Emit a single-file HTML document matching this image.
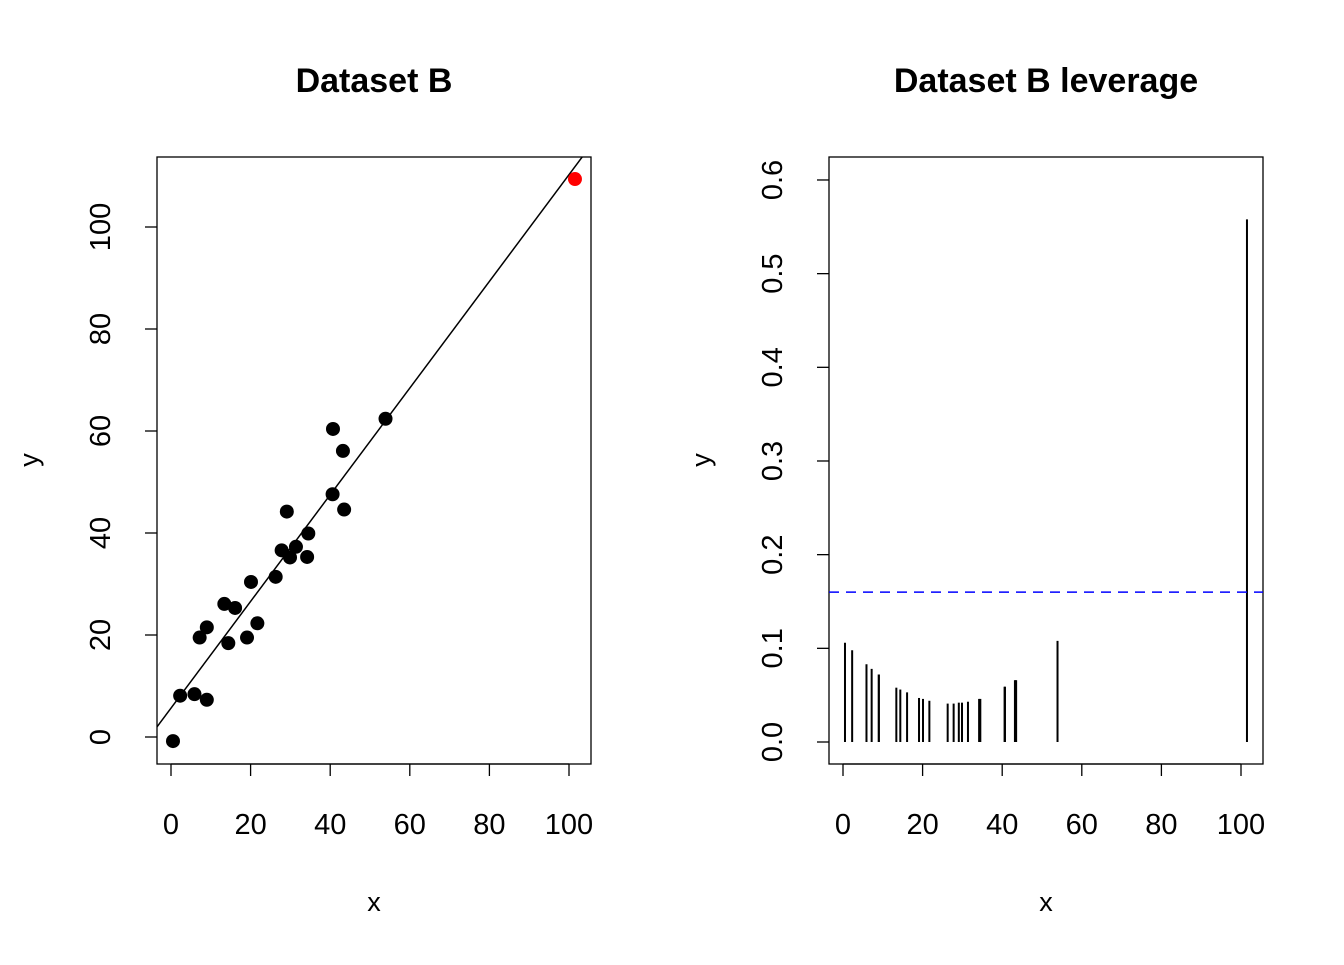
<!DOCTYPE html>
<html><head><meta charset="utf-8"><style>
body{margin:0;background:#fff}
svg text{font-family:"Liberation Sans",Arial,sans-serif;fill:#000}
</style></head><body>
<svg id="s" width="1344" height="960" xmlns="http://www.w3.org/2000/svg">
<text x="374" y="92" text-anchor="middle" font-size="34" font-weight="bold">Dataset B</text>
<text x="1046" y="92" text-anchor="middle" font-size="34" font-weight="bold">Dataset B leverage</text>
<text x="374" y="911" text-anchor="middle" font-size="27">x</text>
<text x="1046" y="911" text-anchor="middle" font-size="27">x</text>
<text transform="translate(38,460) rotate(-90)" text-anchor="middle" font-size="27">y</text>
<text transform="translate(710,460) rotate(-90)" text-anchor="middle" font-size="27">y</text>
<g id="L"></g>
<g id="R"></g>
</svg>
<script>
const xs=[0.5,2.3,5.9,7.2,9.0,9.0,13.4,14.4,16.1,19.1,20.1,21.7,26.3,27.8,29.1,29.9,31.4,34.2,34.5,40.7,40.6,43.2,43.5,53.9,101.5];
const ys=[-0.8,8.1,8.4,19.5,7.3,21.5,26.1,18.4,25.3,19.5,30.4,22.3,31.4,36.6,44.2,35.2,37.3,35.3,39.9,60.4,47.6,56.1,44.6,62.4,109.4];
const lev=[0.106,0.098,0.083,0.078,0.072,0.072,0.058,0.056,0.053,0.047,0.046,0.044,0.041,0.041,0.042,0.042,0.043,0.046,0.046,0.059,0.059,0.066,0.066,0.108,0.558];
const fitIntercept=5.66, fitSlope=1.046;
const xTicks=[0,20,40,60,80,100];
const yTicksL=[0,20,40,60,80,100];
const yTicksR=[0,0.1,0.2,0.3,0.4,0.5,0.6];
const levCutoff=0.16;
const NS="http://www.w3.org/2000/svg";
function mk(p,t,a){const e=document.createElementNS(NS,t);for(const k in a)e.setAttribute(k,a[k]);p.appendChild(e);return e;}
const xL=v=>171+v*3.98, yL=v=>737-v*5.1;
const xR=v=>843+v*3.98, yR=v=>742-v*936.7;
function axes(g,x0,x1,y0,y1,xf,yf,yt,fmt,pref){
  const b=mk(g,'rect',{x:x0,y:y0,width:x1-x0,height:y1-y0,fill:'none',stroke:'#000','stroke-width':1.3});
  
  mk(g,'line',{x1:xf(xTicks[0]),x2:xf(xTicks[xTicks.length-1]),y1:y1,y2:y1,stroke:'#000','stroke-width':1.3});
  xTicks.forEach(t=>{mk(g,'line',{x1:xf(t),x2:xf(t),y1:y1,y2:y1+12,stroke:'#000','stroke-width':1.3});
    const tx=mk(g,'text',{x:xf(t),y:y1+70,'text-anchor':'middle','font-size':29});tx.textContent=t;
    });
  yt.forEach(t=>{mk(g,'line',{x1:x0,x2:x0-12,y1:yf(t),y2:yf(t),stroke:'#000','stroke-width':1.3});
    const tx=mk(g,'text',{transform:`translate(${x0-47},${yf(t)}) rotate(-90)`,'text-anchor':'middle','font-size':29});tx.textContent=fmt(t);
    });
}
const L=document.getElementById('L'), R=document.getElementById('R');
axes(L,157,591,157,764,xL,yL,yTicksL,t=>t,'left');
axes(R,829,1263,157,764,xR,yR,yTicksR,t=>t.toFixed(1),'right');
mk(L,'clipPath',{id:'cl'}).appendChild(document.createElementNS(NS,'rect'));
const cr=document.querySelector('#cl rect');cr.setAttribute('x',157);cr.setAttribute('y',157);cr.setAttribute('width',434);cr.setAttribute('height',607);
const fl=mk(L,'line',{x1:xL(-10),y1:yL(fitIntercept-10*fitSlope),x2:xL(120),y2:yL(fitIntercept+120*fitSlope),stroke:'#000','stroke-width':1.5,'clip-path':'url(#cl)'});

xs.forEach((x,i)=>{const last=i===xs.length-1;
  const c=mk(L,'circle',{cx:xL(x),cy:yL(ys[i]),r:7,fill:last?'#f00':'#000'});
  
  const l=mk(R,'line',{x1:xR(x),x2:xR(x),y1:yR(0),y2:yR(lev[i]),stroke:'#000','stroke-width':2});
  });
const ref=mk(R,'line',{x1:829,x2:1263,y1:yR(levCutoff),y2:yR(levCutoff),stroke:'#00f','stroke-width':1.5,'stroke-dasharray':'10,7'});

</script>
</body></html>
